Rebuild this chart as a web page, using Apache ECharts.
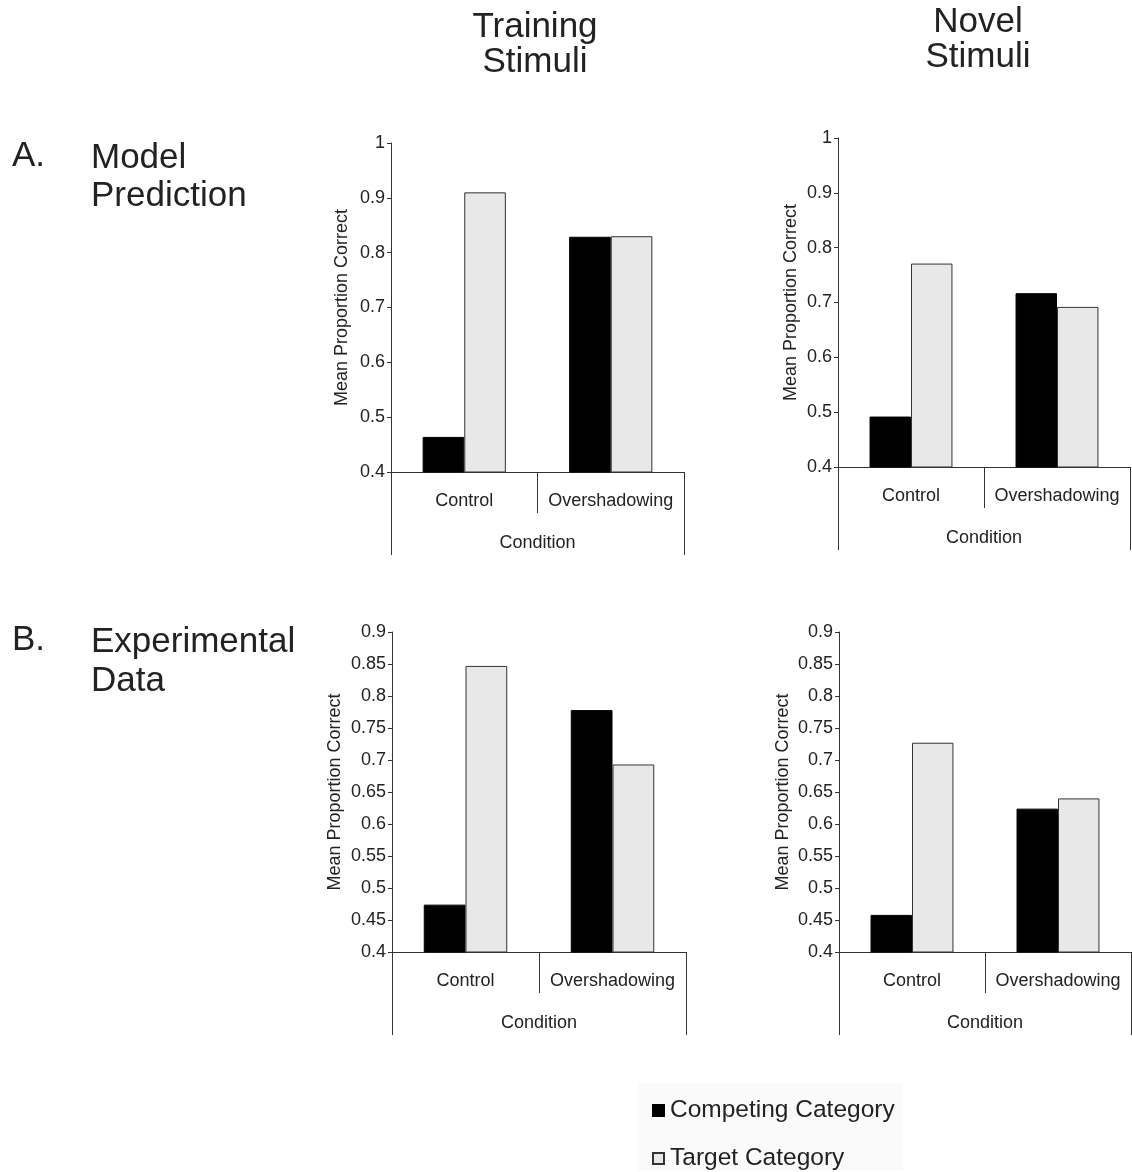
<!DOCTYPE html>
<html>
<head>
<meta charset="utf-8">
<script src="https://cdn.jsdelivr.net/npm/echarts@6/dist/echarts.min.js"></script>
<style>
  html, body { margin: 0; padding: 0; background: #fff; }
  #chart { width: 1132px; height: 1172px; }
</style>
</head>
<body>
<div id="chart"></div>
<script>
// ---- data ----
const categories = ['Control', 'Overshadowing'];
const levelTwo = ['Condition'];
const seriesNames = ['Competing Category', 'Target Category'];

const modelTrainingCompeting = [0.464, 0.829];
const modelTrainingTarget    = [0.910, 0.830];
const modelNovelCompeting    = [0.492, 0.717];
const modelNovelTarget       = [0.771, 0.692];
const expTrainingCompeting   = [0.474, 0.778];
const expTrainingTarget      = [0.847, 0.693];
const expNovelCompeting      = [0.458, 0.624];
const expNovelTarget         = [0.727, 0.640];

const modelAxis = { min: 0.4, max: 1.0, interval: 0.1 };
const expAxis   = { min: 0.4, max: 0.9, interval: 0.05 };

const yTitle = 'Mean Proportion Correct';

// ---- layout ----
const panels = [
  { grid: { left: 391, top: 143, width: 293, height: 329 }, axis: modelAxis, comp: modelTrainingCompeting, targ: modelTrainingTarget, nameGap: 40 },
  { grid: { left: 838, top: 138, width: 292, height: 329 }, axis: modelAxis, comp: modelNovelCompeting, targ: modelNovelTarget, nameGap: 38 },
  { grid: { left: 392, top: 632, width: 294, height: 320 }, axis: expAxis, comp: expTrainingCompeting, targ: expTrainingTarget, nameGap: 48 },
  { grid: { left: 839, top: 632, width: 292, height: 320 }, axis: expAxis, comp: expNovelCompeting, targ: expNovelTarget, nameGap: 47 }
];

const lineColor = '#333';
const textColor = '#222';
const fontFamily = 'Liberation Sans, Arial, sans-serif';

const grids = [], xAxes = [], yAxes = [], series = [];
panels.forEach((p, i) => {
  grids.push(Object.assign({ outerBoundsMode: 'none', containLabel: false }, p.grid));
  // level 1 category axis
  xAxes.push({
    type: 'category', gridIndex: i, data: categories, position: 'bottom',
    axisLine: { show: true, lineStyle: { color: lineColor, width: 1 } },
    axisTick: { show: true, alignWithLabel: false, interval: 0, length: 41, lineStyle: { color: lineColor, width: 1 } },
    axisLabel: { interval: 0, hideOverlap: false, margin: 20, fontSize: 18, color: textColor, fontFamily: fontFamily },
    splitLine: { show: false }
  });
  // level 2 category axis
  xAxes.push({
    type: 'category', gridIndex: i, data: levelTwo, position: 'bottom',
    axisLine: { show: false },
    axisTick: { show: true, alignWithLabel: false, interval: 0, length: 83, lineStyle: { color: lineColor, width: 1 } },
    axisLabel: { interval: 0, margin: 62, fontSize: 18, color: textColor, fontFamily: fontFamily },
    splitLine: { show: false }
  });
  yAxes.push({
    type: 'value', gridIndex: i,
    min: p.axis.min, max: p.axis.max, interval: p.axis.interval,
    name: yTitle, nameLocation: 'middle', nameRotate: 90, nameGap: p.nameGap,
    nameTextStyle: { fontSize: 18, color: textColor, fontFamily: fontFamily },
    axisLine: { show: true, lineStyle: { color: lineColor, width: 1 } },
    axisTick: { show: true, inside: false, length: 4, lineStyle: { color: lineColor } },
    axisLabel: { margin: 6, fontSize: 18, color: textColor, fontFamily: fontFamily },
    splitLine: { show: false }
  });
  series.push({
    name: seriesNames[0], type: 'bar', xAxisIndex: i * 2, yAxisIndex: i,
    data: p.comp, barWidth: '28.4%', barGap: '0%',
    itemStyle: { color: '#000', borderColor: '#000', borderWidth: 1 },
    emphasis: { disabled: true }, animation: false
  });
  series.push({
    name: seriesNames[1], type: 'bar', xAxisIndex: i * 2, yAxisIndex: i,
    data: p.targ, barWidth: '28.4%', barGap: '0%',
    itemStyle: { color: '#e8e8e8', borderColor: '#333', borderWidth: 1 },
    emphasis: { disabled: true }, animation: false
  });
});

const bigFont = { fontSize: 35, fill: textColor, fontFamily: fontFamily };
const graphics = [
  { type: 'text', x: 535, y: 10, style: Object.assign({ text: 'Training\nStimuli', align: 'center', textAlign: 'center', lineHeight: 35 }, bigFont) },
  { type: 'text', x: 978, y: 5, style: Object.assign({ text: 'Novel\nStimuli', align: 'center', textAlign: 'center', lineHeight: 35 }, bigFont) },
  { type: 'text', x: 12, y: 139, style: Object.assign({ text: 'A.' }, bigFont) },
  { type: 'text', x: 91, y: 139, style: Object.assign({ text: 'Model\nPrediction', lineHeight: 38 }, bigFont) },
  { type: 'text', x: 12, y: 623, style: Object.assign({ text: 'B.' }, bigFont) },
  { type: 'text', x: 91, y: 623, style: Object.assign({ text: 'Experimental\nData', lineHeight: 39 }, bigFont) }
];

const chart = echarts.init(document.getElementById('chart'), null, { renderer: 'canvas' });
chart.setOption({
  backgroundColor: '#fff',
  animation: false,
  textStyle: { fontFamily: fontFamily },
  grid: grids,
  xAxis: xAxes,
  yAxis: yAxes,
  series: series,
  legend: {
    data: seriesNames,
    orient: 'vertical',
    left: 638, top: 1083,
    padding: [15, 8, 0, 14],
    backgroundColor: '#fafafa',
    itemWidth: 11, itemHeight: 11, itemGap: 23,
    icon: 'rect',
    textStyle: { fontSize: 24.5, lineHeight: 24, color: textColor, fontFamily: fontFamily, padding: [0, 0, 0, 1] },
    selectedMode: false
  },
  graphic: graphics
});
</script>
</body>
</html>
